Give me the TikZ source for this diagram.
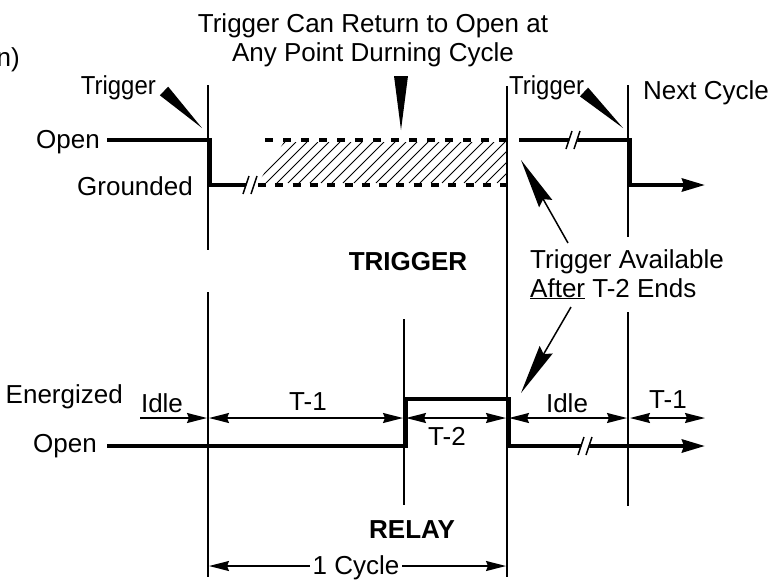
\documentclass[tikz,border=0pt]{standalone}
\usepackage{fontspec}
\setmainfont{Liberation Sans}
\usetikzlibrary{arrows.meta}
\newcommand\mybreak[2]{%
  \fill[white] (#1-6,#2+9) -- (#1+2,#2+9) -- (#1+7,#2-9) -- (#1-1,#2-9) -- cycle;
  \draw[line width=1.5pt] (#1-7,#2+9) -- (#1-1,#2-9);
  \draw[line width=1.5pt] (#1+1,#2+9) -- (#1+7,#2-9);
}
\begin{document}
\begin{tikzpicture}[x=1pt,y=-1pt,
  every node/.style={font=\fontsize{26}{29}\selectfont, inner sep=0pt},
  boldlbl/.style={font=\fontsize{26}{29}\selectfont\bfseries},
  guide/.style={line width=2pt},
  wave/.style={line width=4pt, line cap=butt, line join=miter},
  dashwave/.style={line width=4pt, dash pattern=on 8pt off 10pt},
  dim/.style={line width=1.5pt},
  dimtip/.tip={Stealth[length=20pt,width=10pt,inset=2pt]},
  bigtip/.tip={Stealth[length=23pt,width=13pt,inset=2pt]},
  longtip/.tip={Stealth[length=50pt,width=15pt,inset=5pt]}]
\useasboundingbox (0,0) rectangle (776,579);

% ---------- text ----------
\node[anchor=base east] (nfrag) at (20,66) {n)};
\node[anchor=base] (title1) at (373,32) {Trigger Can Return to Open at};
\node[anchor=base] (title2) at (373,61) {Any Point Durning Cycle};
\node[anchor=base east] (trigL) at (156,94) {\scalebox{0.92}[1]{Trigger}};
\node[anchor=base east] (openT) at (100,148) {Open};
\node[anchor=base east] (gnd) at (193,195) {Grounded};
\node[anchor=base west] (trigR) at (509,94) {\scalebox{0.92}[1]{Trigger}};
\node[anchor=base west] (next) at (643,99) {Next Cycle};
\node[anchor=base, boldlbl] (trigger) at (408,270) {TRIGGER};
\node[anchor=base west] (avail1) at (530,268) {Trigger Available};
\node[anchor=base west] (avail2) at (530,297) {\underline{After} T-2 Ends};
\node[anchor=base east] (energ) at (123,403) {Energized};
\node[anchor=base east] (openR) at (97,452) {Open};
\node[anchor=base] (idle1) at (162,412) {Idle};
\node[anchor=base] (t1a) at (308,410) {T-1};
\node[anchor=base] (t2) at (447,445) {T-2};
\node[anchor=base] (idle2) at (567,412) {Idle};
\node[anchor=base] (t1b) at (668,408) {T-1};
\node[anchor=base, boldlbl] (relay) at (412,538) {RELAY};

% ---------- guide lines ----------
\draw[guide] (208,85) -- (208,250);
\draw[guide] (208,292) -- (208,577);
\draw[guide] (404,319) -- (404,505);
\draw[guide] (507,86) -- (507,577);
\draw[guide] (628,85) -- (628,237);
\draw[guide] (628,312) -- (628,506);

% ---------- trigger waveform ----------
\begin{scope}
  \clip (258,183) -- (507,183) -- (507,142) -- (284,142) -- cycle;
  \foreach \i in {0,...,30} \draw[line width=0.8pt] (200+\i*11,183) -- (241+\i*11,142);
\end{scope}
\draw[wave] (107,140) -- (210,140) -- (210,185) -- (250,185);
\mybreak{250}{185}
\draw[dashwave] (265,140) -- (509,140);
\draw[line width=4pt, dash pattern=on 8pt off 9.3pt] (258,185) -- (509,185);
\draw[wave] (519,140) -- (573,140);
\draw[wave] (573,140) -- (630,140) -- (630,185);
\mybreak{573}{140}
\draw[wave,-{bigtip}] (628,185) -- (705,185);

% pointers
\fill (159.8,95.3) -- (168.2,86.7) -- (202,128) -- cycle;
\fill (394,76) -- (408,76) -- (401,130) -- cycle;
\fill (579.9,96.4) -- (588.1,87.6) -- (623,128) -- cycle;

% trigger available arrows
\coordinate (upTip) at (521,160);
\coordinate (dnTip) at (521,393);
\draw[dim,-{longtip}] (568,243) -- (upTip);
\draw[dim,-{longtip}] (571,307) -- (dnTip);

% ---------- relay waveform ----------
\draw[wave] (107,446) -- (406,446) -- (406,399) -- (509,399) -- (509,446) -- (585,446);
\draw[wave,-{bigtip}] (585,446) -- (705,446);
\mybreak{585}{446}

% ---------- dimensions ----------
\draw[dim,-{dimtip}] (140,418) -- (207,418);
\draw[dim,{dimtip}-{dimtip}] (209,418) -- (403,418);
\draw[dim,{dimtip}-{dimtip}] (406,418) -- (506,418);
\draw[dim,{dimtip}-{dimtip}] (509,418) -- (627,418);
\draw[dim,{dimtip}-{dimtip}] (630,418) -- (705,418);
\draw[dim,{dimtip}-{dimtip}] (209,566) -- (506,566);
\node[anchor=base, fill=white, inner xsep=3pt, inner ysep=1pt] (cyc) at (356,574) {1 Cycle};
\end{tikzpicture}
\end{document}
